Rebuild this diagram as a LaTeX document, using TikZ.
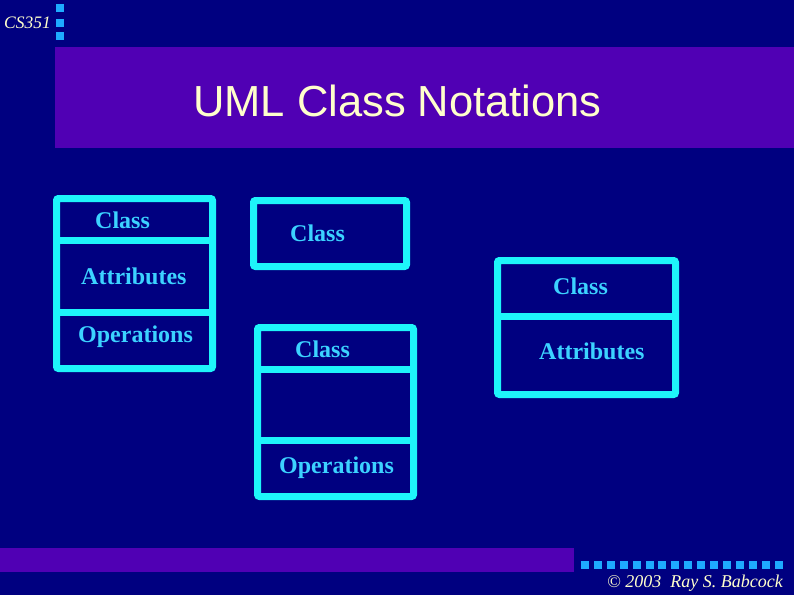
\documentclass[tikz,border=0pt]{standalone}
\usepackage{fontspec}
\setmainfont{Liberation Serif}
\newfontfamily\titlefont{Liberation Sans}
\definecolor{bgnavy}{RGB}{0,0,128}
\definecolor{bandpurple}{RGB}{80,0,180}
\definecolor{boxcyan}{RGB}{30,245,250}
\definecolor{txtcyan}{RGB}{60,210,255}
\definecolor{sqblue}{RGB}{30,170,255}
\definecolor{paleyellow}{RGB}{255,255,204}
\tikzset{
  classbox/.style={draw=boxcyan, line width=7pt, rounded corners=2pt, inner sep=0pt, outer sep=0pt, fill=none},
  divider/.style={draw=boxcyan, line width=7pt},
  boxtext/.style={anchor=base west, inner sep=0pt, text=txtcyan, font=\fontsize{24}{28}\selectfont\bfseries},
  sq/.style={fill=sqblue, draw=none, minimum size=8pt, inner sep=0pt},
}
\begin{document}
\begin{tikzpicture}[x=1pt,y=-1pt]
\useasboundingbox (0,0) rectangle (794,595);
\fill[bgnavy] (0,0) rectangle (794,595);
% bands
\fill[bandpurple] (55,47) rectangle (794,148);
\fill[bandpurple] (0,548) rectangle (574,572);
% top-left squares
\foreach \yy [count=\i] in {8,22.5,36} \node[sq] (tsq\i) at (60,\yy) {};
% bottom squares
\foreach \i in {0,...,15} \node[sq] (bsq\i) at (585+\i*12.9,565) {};
% header texts
\node[anchor=base west, inner sep=0pt, text=paleyellow, font=\fontsize{17.5}{20}\selectfont\itshape] (cs) at (4,28) {CS351};
\node[anchor=base west, inner sep=0pt, text=paleyellow, font=\titlefont\fontsize{43.5}{48}\selectfont] (title) at (193,116) {UML Class Notations};
\node[anchor=base west, inner sep=0pt, text=paleyellow, font=\fontsize{18}{21}\selectfont\itshape] (copy) at (607,587) {© 2003\ \ Ray S. Babcock};
% box 1
\node[classbox, minimum width=156pt, minimum height=170pt] (b1) at (134.5,283.5) {};
\coordinate (b1d1) at (0,240);
\coordinate (b1d2) at (0,312);
\draw[divider] (b1.west |- b1d1) -- (b1.east |- b1d1);
\draw[divider] (b1.west |- b1d2) -- (b1.east |- b1d2);
\node[boxtext] (b1c) at (95,228) {Class};
\node[boxtext] (b1a) at (81,284) {Attributes};
\node[boxtext] (b1o) at (78,342) {Operations};
% box 2
\node[classbox, minimum width=153pt, minimum height=66pt] (b2) at (330,233.5) {};
\node[boxtext] (b2c) at (290,241) {Class};
% box 3
\node[classbox, minimum width=156pt, minimum height=169pt] (b3) at (335.5,412) {};
\coordinate (b3d1) at (0,369);
\coordinate (b3d2) at (0,440);
\draw[divider] (b3.west |- b3d1) -- (b3.east |- b3d1);
\draw[divider] (b3.west |- b3d2) -- (b3.east |- b3d2);
\node[boxtext] (b3c) at (295,357) {Class};
\node[boxtext] (b3o) at (279,473) {Operations};
% box 4
\node[classbox, minimum width=178pt, minimum height=134pt] (b4) at (586.5,327.5) {};
\coordinate (b4d1) at (0,316);
\draw[divider] (b4.west |- b4d1) -- (b4.east |- b4d1);
\node[boxtext] (b4c) at (553,294) {Class};
\node[boxtext] (b4a) at (539,359) {Attributes};
\end{tikzpicture}
\end{document}
